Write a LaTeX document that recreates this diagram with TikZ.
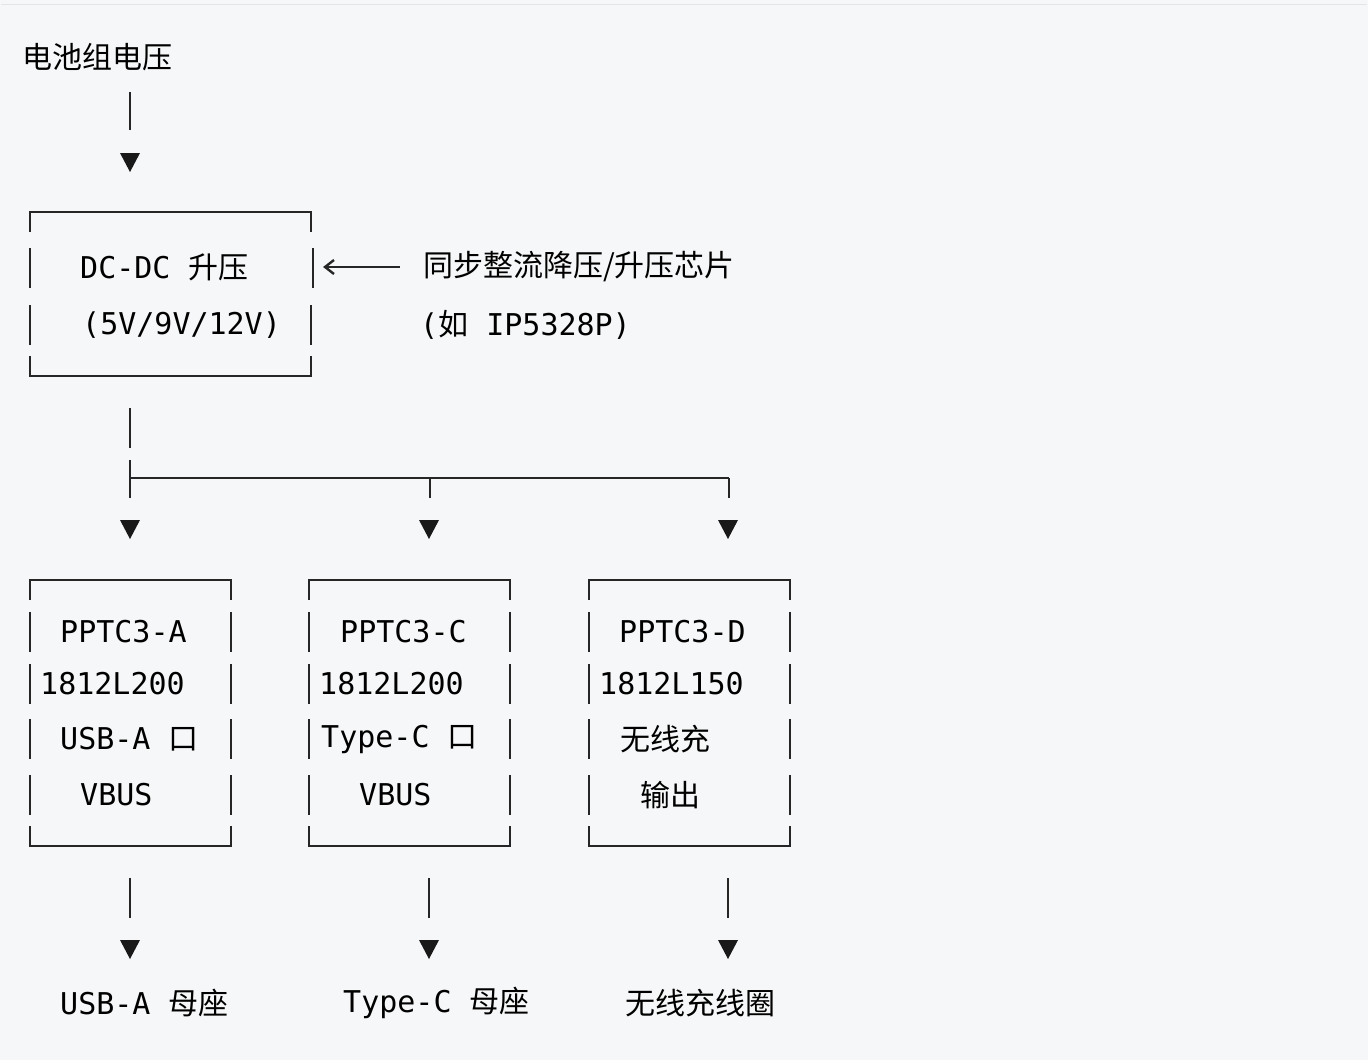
\documentclass[tikz,border=0pt]{standalone}
\usepackage{fontspec}
\setmonofont{DejaVu Sans Mono}
\newfontfamily\cjk{Noto Sans CJK SC}
\newcommand{\C}[1]{{\cjk #1}}
\begin{document}
\begin{tikzpicture}[x=1pt,y=-1pt,
  t/.style={anchor=west,inner sep=0,font=\fontsize{30}{30}\ttfamily},
  ln/.style={line width=2.4pt,black!85},
  tri/.style={fill=black!90}]
\useasboundingbox (0,0) rectangle (1368,1060);
\fill[fill={rgb,255:red,246;green,247;blue,248}] (0,0) rectangle (1368,1060);
\draw[black!10,line width=1pt] (1,4) -- (1367,4);
\newcommand{\arr}[2]{\fill[tri] (#1-10,#2-10) -- (#1+10,#2-10) -- (#1,#2+9) -- cycle;}
\newcommand{\vseg}[3]{\draw[ln] (#1,#2) -- (#1,#3);}
% top
\node[t] (bat) at (22,57) {\C{电池组电压}};
\vseg{130}{92}{130}
\arr{130}{163}
% box 1
\draw[ln] (30,232) -- (30,212) -- (311,212) -- (311,232);
\draw[ln] (30,356) -- (30,376) -- (311,376) -- (311,356);
\vseg{30}{248}{288}\vseg{30}{305}{345}
\vseg{313}{248}{288}\vseg{311}{305}{345}
\node[t] (dc) at (80,267) {DC-DC \C{升压}};
\node[t] (v) at (82,325) {(5V/9V/12V)};
\node[t] (chip) at (423,267) {\C{同步整流降压/升压芯片}};
\node[t] (ip) at (420,325) {(\C{如} IP5328P)};
\draw[ln] (400,267) -- (326,267);
\draw[ln] (334,260) -- (325,267) -- (334,274);
% split
\vseg{130}{408}{448}
\draw[ln] (130,460) -- (130,498);
\draw[ln] (130,478) -- (729,478);
\vseg{430}{478}{498}\vseg{729}{478}{498}
\arr{130}{530}\arr{429}{530}\arr{728}{530}
% three boxes
\foreach \x/\w in {30/231,309/510,589/790}{
  \draw[ln] (\x,600) -- (\x,580) -- (\w,580) -- (\w,600);
  \draw[ln] (\x,826) -- (\x,846) -- (\w,846) -- (\w,826);
  \foreach \y in {632,684,739,795}{
    \draw[ln] (\x,\y-20) -- (\x,\y+20);
    \draw[ln] (\w,\y-20) -- (\w,\y+20);}
}
\node[t] (a1) at (60,632) {PPTC3-A};
\node[t] (a2) at (40,684) {1812L200};
\node[t] (a3) at (60,739) {USB-A \C{口}};
\node[t] (a4) at (80,795) {VBUS};
\node[t] (c1) at (340,632) {PPTC3-C};
\node[t] (c2) at (319,684) {1812L200};
\node[t] (c3) at (321,739) {Type-C \C{口}};
\node[t] (c4) at (359,795) {VBUS};
\node[t] (d1) at (619,632) {PPTC3-D};
\node[t] (d2) at (599,684) {1812L150};
\node[t] (d3) at (620,739) {\C{无线充}};
\node[t] (d4) at (640,795) {\C{输出}};
% bottom
\vseg{130}{878}{918}\vseg{429}{878}{918}\vseg{728}{878}{918}
\arr{130}{950}\arr{429}{950}\arr{728}{950}
\node[t] (o1) at (60,1003) {USB-A \C{母座}};
\node[t] (o2) at (343,1003) {Type-C \C{母座}};
\node[t] (o3) at (625,1003) {\C{无线充线圈}};
\end{tikzpicture}
\end{document}
